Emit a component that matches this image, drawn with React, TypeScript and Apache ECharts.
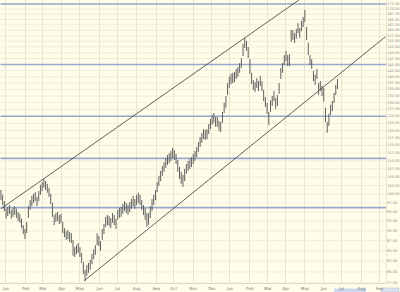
import React, { useEffect, useRef } from "react";
import * as echarts from "echarts";

// Two-day price bars (high / low)
const highs = [
  101.2, 99.8, 98.0, 95.9, 96.4, 96.9, 95.6, 96.1, 96.6, 95.9,
  95.0, 94.5, 93.2, 91.5, 90.5, 92.3, 96.6, 98.3, 99.5, 100.1,
  100.6, 99.2, 100.9, 102.7, 103.5, 104.4, 103.8, 103.0, 101.8, 100.1,
  97.5, 94.2, 94.7, 95.0, 94.2, 94.5, 92.3, 90.7, 89.9, 90.2,
  89.7, 89.4, 87.7, 85.9, 86.4, 86.9, 85.9, 84.5, 82.3, 80.5,
  81.6, 82.1, 82.8, 84.2, 85.4, 86.4, 89.4, 88.7, 87.4, 90.5,
  91.8, 93.7, 94.2, 93.9, 93.4, 94.7, 94.2, 93.2, 95.6, 96.1,
  96.4, 97.2, 98.0, 97.5, 96.9, 97.7, 98.6, 99.5, 98.6, 99.8,
  100.4, 99.8, 98.3, 96.9, 96.1, 94.7, 94.7, 96.6, 98.6, 99.8,
  101.2, 103.5, 105.4, 106.9, 108.4, 109.6, 110.9, 111.9, 112.5, 113.2,
  114.2, 113.5, 112.2, 110.3, 108.1, 106.6, 105.7, 107.5, 109.0, 110.0,
  110.6, 111.2, 112.2, 113.2, 114.5, 116.1, 117.8, 119.2, 120.5, 120.2,
  120.5, 122.3, 124.1, 125.5, 126.2, 124.8, 124.8, 123.4, 123.0, 126.6,
  129.9, 132.5, 137.5, 140.0, 141.2, 141.6, 142.0, 143.2, 144.0, 145.6,
  147.7, 153.8, 156.5, 155.2, 152.5, 147.3, 141.6, 138.7, 137.9, 139.5,
  138.3, 140.4, 138.3, 134.8, 132.1, 129.9, 126.6, 131.0, 132.5, 134.4,
  131.8, 132.9, 137.5, 143.6, 145.6, 149.0, 150.8, 149.0, 149.4, 160.1,
  160.1, 158.7, 160.6, 163.3, 161.0, 164.3, 166.2, 169.6, 161.5, 154.3,
  149.0, 147.3, 142.4, 140.8, 143.2, 137.5, 138.3, 136.4, 135.6, 128.1,
  123.0, 125.9, 129.2, 130.6, 133.7, 136.8, 139.1,
];
const lows = [
  98.3, 96.9, 95.3, 93.2, 93.9, 94.5, 93.2, 93.7, 94.2, 93.4,
  92.6, 92.1, 90.7, 89.2, 87.9, 89.4, 93.4, 95.6, 96.6, 97.5,
  98.0, 96.6, 98.0, 99.8, 100.9, 101.8, 101.2, 100.4, 99.2, 97.2,
  93.7, 91.5, 92.3, 92.6, 91.8, 92.1, 89.4, 88.4, 87.7, 87.9,
  87.2, 86.9, 83.8, 83.5, 84.2, 84.5, 83.5, 82.1, 79.5, 78.0,
  79.1, 79.8, 80.5, 81.8, 83.0, 84.0, 86.4, 86.2, 85.0, 87.7,
  89.2, 91.0, 91.5, 91.2, 90.7, 92.1, 91.5, 90.5, 92.9, 93.4,
  93.7, 94.5, 95.3, 94.7, 94.2, 95.0, 95.9, 96.6, 95.9, 96.9,
  97.5, 96.9, 95.6, 94.2, 92.9, 91.0, 91.5, 93.4, 95.3, 96.9,
  98.3, 100.6, 102.4, 103.8, 105.4, 106.6, 107.8, 108.7, 109.3, 110.0,
  110.9, 110.3, 109.0, 106.6, 104.4, 103.0, 102.1, 103.8, 106.0, 106.9,
  107.5, 108.1, 109.0, 110.0, 111.2, 112.9, 114.5, 115.8, 117.1, 116.8,
  117.1, 118.8, 120.5, 122.0, 122.7, 121.3, 121.3, 119.9, 119.5, 122.7,
  126.2, 128.1, 132.9, 135.6, 137.1, 137.5, 137.9, 139.1, 140.0, 141.6,
  143.6, 148.6, 152.1, 150.8, 147.7, 141.2, 137.1, 134.8, 134.0, 135.6,
  134.4, 136.4, 134.4, 130.6, 128.4, 125.9, 122.0, 126.6, 128.8, 130.6,
  127.7, 128.8, 133.3, 139.1, 141.6, 144.8, 146.5, 144.4, 144.4, 154.7,
  155.6, 154.3, 156.1, 158.7, 156.5, 159.6, 161.5, 163.8, 155.6, 149.0,
  144.8, 143.2, 138.3, 136.8, 139.1, 132.9, 134.4, 132.5, 130.3, 123.0,
  119.2, 121.6, 125.5, 126.9, 129.9, 132.9, 135.2,
];

const tickLabels = [
  "77.50", "80.00", "82.50", "85.00", "87.50", "90.00", "92.50", "95.00", "97.50",
  "100.00", "102.50", "105.00", "107.50", "110.00", "112.50", "115.00", "117.50",
  "120.00", "122.50", "125.00", "127.50", "130.00", "132.50", "135.00", "137.50",
  "140.00", "142.50", "145.00", "147.50", "150.00", "152.50", "155.00", "157.50",
  "160.00", "162.50", "165.00", "167.50", "170.00", "172.50",
];

const blueLevels = [172.5, 145, 125, 110.8, 96.2];

// channel trend lines: [day index, price]
const upperChannel = [[0, 95.9], [347, 174.5]];
const lowerChannel = [[97, 78.0], [448, 157.1]];

const monthNames = ["Jan", "Feb", "Mar", "Apr", "May", "Jun", "Jul", "Aug", "Sep", "Oct", "Nov", "Dec"];
const firstDay = "2006-12-22";
const lastDay = "2008-09-10";

function weekdays(start: string, end: string): string[] {
  const out: string[] = [];
  const d = new Date(start + "T00:00:00Z");
  const e = new Date(end + "T00:00:00Z");
  while (d.getTime() <= e.getTime()) {
    const wd = d.getUTCDay();
    if (wd !== 0 && wd !== 6) out.push(d.toISOString().slice(0, 10));
    d.setUTCDate(d.getUTCDate() + 1);
  }
  return out;
}

export default function App() {
  const ref = useRef<HTMLDivElement>(null);
  useEffect(() => {
    if (!ref.current) return;
    const chart = echarts.init(ref.current, null, { renderer: "svg" });
    const dates = weekdays(firstDay, lastDay);
    const isMonthStart = (i: number) =>
      i > 0 && dates[i].slice(5, 7) !== dates[i - 1].slice(5, 7);
    const font = "DejaVu Sans";

    const barData = highs.map((h, k) => [k * 2, h, lows[k]]);

    chart.setOption({
      animation: false,
      backgroundColor: "#FFFEEA",
      grid: { left: 0, top: 0, right: 14, bottom: 9, containLabel: false },
      xAxis: {
        type: "category",
        data: dates,
        boundaryGap: true,
        axisLine: { show: true, lineStyle: { color: "#CFCBB5", width: 1 } },
        axisTick: { show: false },
        axisLabel: {
          interval: (i: number) => isMonthStart(i),
          formatter: (v: string) => monthNames[parseInt(v.slice(5, 7), 10) - 1],
          fontSize: 4,
          color: "#777",
          margin: 3,
          fontFamily: font,
        },
        splitLine: {
          show: true,
          interval: (i: number) => isMonthStart(i),
          lineStyle: { color: "#E9E5CC", width: 1 },
        },
      },
      yAxis: {
        type: "log",
        min: 77.5,
        max: 174.5,
        axisLabel: { show: false },
        axisLine: { show: false },
        axisTick: { show: false },
        splitLine: { show: false },
      },
      graphic: [
        { type: "rect", shape: { x: 334, y: 288.5, width: 32, height: 3.5 }, style: { fill: "#C9D8EF" }, silent: true },
        { type: "rect", shape: { x: 381, y: 288, width: 18, height: 4 }, style: { fill: "#DDE3EE", stroke: "#AAB4C8", lineWidth: 0.5 }, silent: true },
      ],
      series: [
        {
          type: "custom",
          name: "ticks",
          silent: true,
          z: 1,
          data: tickLabels.map((t) => [0, parseFloat(t)]),
          renderItem: (params: any, api: any) => {
            const cs = params.coordSys;
            const y = api.coord([0, api.value(1)])[1];
            return {
              type: "group",
              children: [
                { type: "line", shape: { x1: cs.x, y1: y, x2: cs.x + cs.width, y2: y }, style: { stroke: "#F0ECD6", lineWidth: 1 } },
                {
                  type: "text",
                  x: cs.x + cs.width + 1,
                  y,
                  style: { text: tickLabels[params.dataIndex], fontSize: 3.6, fill: "#888", align: "left", verticalAlign: "middle", fontFamily: font },
                },
              ],
            };
          },
        },
        {
          type: "custom",
          name: "levels",
          silent: true,
          z: 2,
          data: blueLevels.map((v) => [0, v]),
          renderItem: (params: any, api: any) => {
            const cs = params.coordSys;
            const y = api.coord([0, api.value(1)])[1];
            return { type: "line", shape: { x1: cs.x, y1: y, x2: cs.x + cs.width, y2: y }, style: { stroke: "#9AA7CB", lineWidth: 1.6 } };
          },
        },
        {
          type: "custom",
          name: "bars",
          silent: true,
          z: 3,
          data: barData,
          renderItem: (params: any, api: any) => {
            const x = api.value(0);
            const p1 = api.coord([x, api.value(1)]);
            const p2 = api.coord([x, api.value(2)]);
            return { type: "line", shape: { x1: p1[0], y1: p1[1], x2: p2[0], y2: p2[1] }, style: { stroke: "#606060", lineWidth: 1 } };
          },
        },
        {
          type: "line",
          name: "upper",
          data: upperChannel,
          showSymbol: false,
          symbol: "none",
          z: 4,
          lineStyle: { color: "#3A3A3A", width: 0.8 },
        },
        {
          type: "line",
          name: "lower",
          data: lowerChannel,
          showSymbol: false,
          symbol: "none",
          z: 4,
          lineStyle: { color: "#3A3A3A", width: 0.8 },
        },
      ],
    });
    return () => chart.dispose();
  }, []);
  return (
    <div
      ref={ref}
      style={{ position: "fixed", left: 0, top: 0, width: 400, height: 292 }}
    />
  );
}
